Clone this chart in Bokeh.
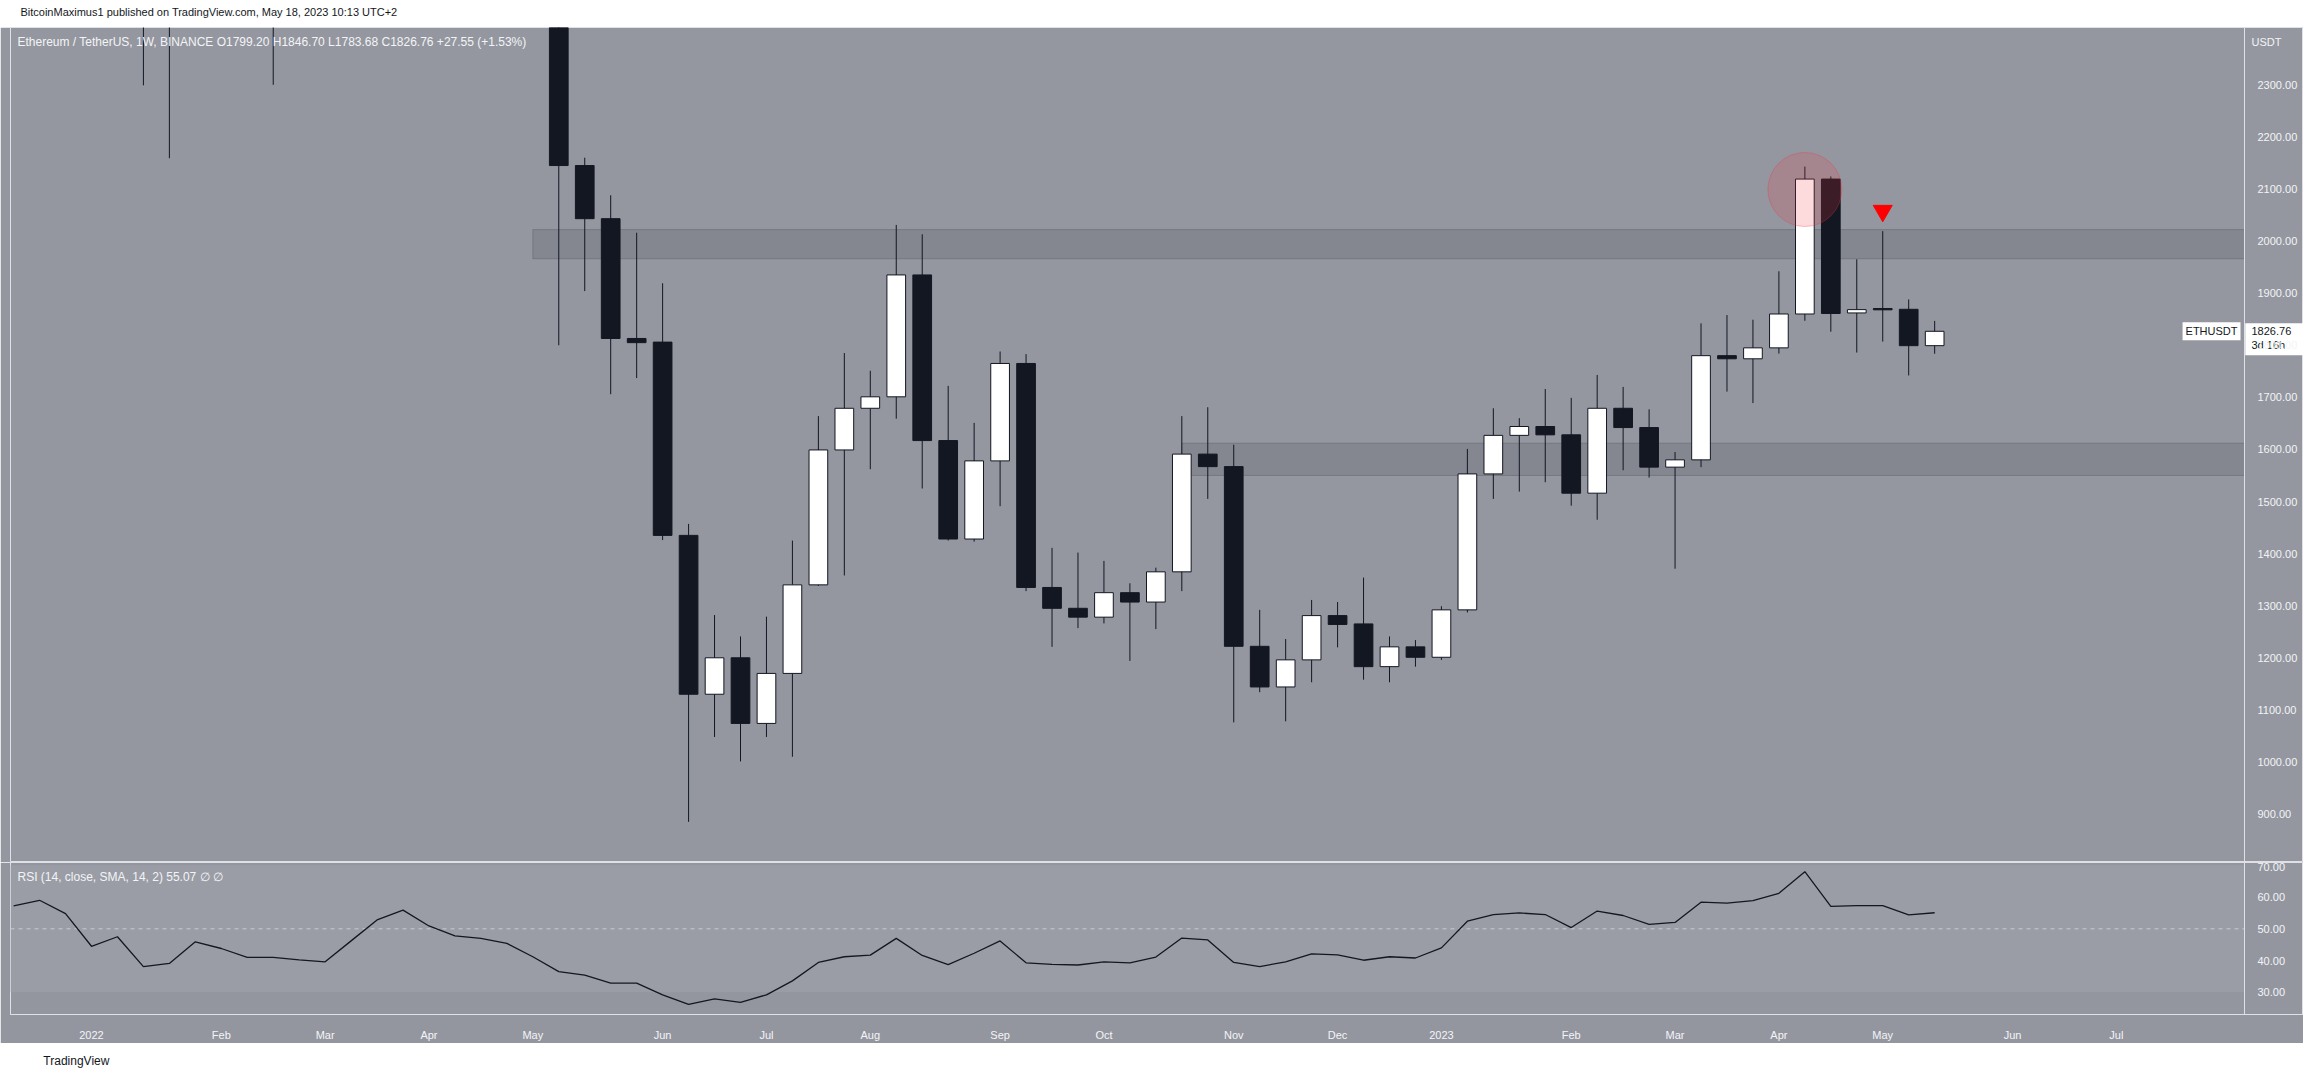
import numpy as np
import pandas as pd
from bokeh.plotting import figure
from bokeh.layouts import column
from bokeh.models import (Range1d, FixedTicker, NumeralTickFormatter, Label, Span,
                          ColumnDataSource, CDSView, BooleanFilter)
from bokeh.core.properties import value
from bokeh.embed import file_html
from bokeh.resources import INLINE

# ---------------- data (weekly ETH/USDT candles, Binance) ----------------
first_week = "2022-01-03"
opens = [3829, 3083, 3330, 2540, 2590, 3025, 2880, 2630, 2620, 2520, 2570, 2940, 3290, 3450,
         3200, 3060, 2920, 2830, 2520, 2145, 2043, 1813, 1806, 1435, 1130, 1200, 1074, 1170,
         1340, 1599, 1679, 1701, 1935, 1617, 1428, 1578, 1765, 1335, 1295, 1278, 1325, 1307,
         1365, 1591, 1567, 1222, 1144, 1196, 1281, 1265, 1183, 1221, 1201, 1292, 1553, 1627,
         1644, 1628, 1516, 1679, 1642, 1566, 1580, 1780, 1774, 1795, 1860, 2119, 1862, 1870.5,
         1869, 1799.20]
highs = [3900, 3413, 3380, 2730, 3040, 3280, 3200, 2800, 3050, 2830, 2950, 3300, 3580, 3550,
         3220, 3190, 3030, 3000, 2560, 2160, 2088, 2016, 1919, 1457, 1282, 1241, 1279, 1425,
         1664, 1785, 1751, 2031, 2013, 1722, 1651, 1788, 1783, 1411, 1402, 1386, 1343, 1373,
         1664, 1681, 1609, 1292, 1236, 1311, 1307, 1354, 1241, 1234, 1299, 1601, 1679, 1660,
         1716, 1699, 1743, 1720, 1677, 1595, 1842, 1858, 1849, 1942, 2143, 2124, 1965, 2019,
         1888, 1846.70]
lows = [3000, 2930, 2299, 2159, 2580, 2850, 2580, 2300, 2500, 2450, 2500, 2850, 3180, 3170,
        2900, 2880, 2770, 2480, 1800, 1904, 1706, 1737, 1426, 885, 1048, 1001, 1048, 1010,
        1338, 1358, 1562, 1659, 1525, 1425, 1423, 1491, 1328, 1221, 1257, 1266, 1194, 1255,
        1328, 1505, 1076, 1134, 1078, 1153, 1220, 1158, 1153, 1183, 1196, 1287, 1505, 1519,
        1537, 1492, 1465, 1560, 1546, 1371, 1566, 1711, 1689, 1784, 1847, 1826, 1786, 1807,
        1742, 1783.68]
closes = [3083, 3330, 2540, 2590, 3025, 2880, 2630, 2620, 2520, 2570, 2940, 3290, 3450, 3200,
          3060, 2920, 2830, 2520, 2145, 2043, 1813, 1805, 1435, 1130, 1200, 1074, 1170, 1340,
          1599, 1679, 1701, 1935, 1617, 1428, 1578, 1765, 1335, 1295, 1278, 1325, 1307, 1365,
          1591, 1567, 1222, 1144, 1196, 1281, 1264, 1183, 1221, 1201, 1292, 1553, 1627, 1644,
          1628, 1516, 1679, 1642, 1566, 1580, 1780, 1774, 1795, 1860, 2119, 1861, 1868.4, 1868,
          1799.21, 1826.76]

rsi_first_week = "2021-12-13"
rsi = [57.2, 59.0, 54.8, 44.5, 47.5, 38.1, 39.1, 45.9, 43.8, 41.0, 41.0, 40.2, 39.6, 46.2,
       52.8, 55.9, 50.9, 47.8, 47.0, 45.4, 41.2, 36.5, 35.4, 32.9, 32.9, 29.2, 26.2, 27.9,
       26.8, 29.2, 33.6, 39.4, 41.2, 41.7, 47.0, 41.6, 38.7, 42.3, 46.2, 39.3, 38.8, 38.6,
       39.6, 39.3, 41.1, 47.1, 46.5, 39.4, 38.1, 39.6, 42.1, 41.8, 40.1, 41.2, 40.8, 44.0,
       52.4, 54.5, 55.0, 54.5, 50.4, 55.6, 54.2, 51.4, 52.0, 58.4, 58.1, 58.9, 61.2, 68.0,
       57.1, 57.3, 57.3, 54.4, 55.07]

tick_dates = ["2022-01-03", "2022-02-07", "2022-03-07", "2022-04-04", "2022-05-02",
              "2022-06-06", "2022-07-04", "2022-08-01", "2022-09-05", "2022-10-03",
              "2022-11-07", "2022-12-05", "2023-01-02", "2023-02-06", "2023-03-06",
              "2023-04-03", "2023-05-01", "2023-06-05", "2023-07-03"]
tick_labels = ["2022", "Feb", "Mar", "Apr", "May", "Jun", "Jul", "Aug", "Sep", "Oct", "Nov",
               "Dec", "2023", "Feb", "Mar", "Apr", "May", "Jun", "Jul"]
price_ticks = [900, 1000, 1100, 1200, 1300, 1400, 1500, 1600, 1700, 1800, 1900, 2000, 2100,
               2200, 2300]
rsi_ticks = [30, 40, 50, 60, 70]

zone_start = ["2022-05-02", "2022-10-24"]
zone_low = [1966, 1550]
zone_high = [2022, 1612]

circle_week, circle_price = "2023-04-10", 2099
arrow_week, arrow_price = "2023-05-01", 2058

# ---------------- helpers / style ----------------
def wk(d):
    return (pd.Timestamp(d) - pd.Timestamp(first_week)).days / 7.0

FONT = "Liberation Sans"
BG = "#94979f"
RSI_BG = "#93969f"
BAND = "#9a9da5"
DARK = "#131722"
LIGHT = "#f3f4f7"
EDGE = "#dfe1e6"
W = 2303
PX_PER_WK = 25.96
X0_PX = 91.0          # page x of the first weekly bar
Y_LO, Y_HI = 807, 2410

def xk(px):           # page px -> week units (annotation placement only)
    return (px - X0_PX) / PX_PER_WK

xr = Range1d(xk(10), xk(2303))
K_SEP = xk(2244)      # separator between chart and price scale
P_PER_PX = (Y_HI - Y_LO) / 835.0

# ---------------- header ----------------
hdr = figure(width=W, height=27, x_range=Range1d(0, W), y_range=Range1d(0, 27),
             output_backend="svg", toolbar_location=None, min_border=0,
             x_axis_location=None, y_axis_location=None)
hdr.background_fill_color = "white"
hdr.border_fill_color = "white"
hdr.outline_line_color = None
hdr.grid.visible = False
hdr.text(x=[10], y=[16], text=["BitcoinMaximus1 published on TradingView.com, May 18, 2023 10:13 UTC+2"],
         text_font=value(FONT), text_font_size="11px", text_color=DARK, text_baseline="middle")

# ---------------- main price panel ----------------
p = figure(width=W, height=835, x_range=xr, y_range=Range1d(Y_LO, Y_HI),
           output_backend="svg", toolbar_location=None, x_axis_location=None,
           y_axis_location="right", min_border_left=10, min_border_right=0,
           min_border_top=0, min_border_bottom=0)
p.background_fill_color = BG
p.border_fill_color = BG
p.outline_line_color = EDGE
p.grid.visible = False

# resistance / support zones
p.quad(left=[wk(d) for d in zone_start], right=[K_SEP] * len(zone_start),
       bottom=zone_low, top=zone_high,
       fill_color=DARK, fill_alpha=0.12, line_color=DARK, line_alpha=0.18, line_width=1)

k = np.arange(len(opens)) + wk(first_week)
o = np.array(opens, dtype=float)
c = np.array(closes, dtype=float)
h = np.array(highs, dtype=float)
lo = np.array(lows, dtype=float)
src = ColumnDataSource(dict(x=k, open=o, high=h, low=lo, close=c,
                            top=np.maximum(o, c), bottom=np.minimum(o, c)))
up = c >= o
# only candles that reach into the visible price window are rendered
wick_view = CDSView(filter=BooleanFilter(list(lo < Y_HI)))
up_view = CDSView(filter=BooleanFilter(list(up & (np.minimum(o, c) < Y_HI))))
dn_view = CDSView(filter=BooleanFilter(list((~up) & (np.minimum(o, c) < Y_HI))))
p.segment(x0="x", y0="high", x1="x", y1="low", source=src, view=wick_view,
          line_color=DARK, line_width=1)
p.vbar(x="x", top="top", bottom="bottom", width=0.72, source=src, view=up_view,
       fill_color="#ffffff", line_color=DARK, line_width=1)
p.vbar(x="x", top="top", bottom="bottom", width=0.72, source=src, view=dn_view,
       fill_color=DARK, line_color=DARK, line_width=1)

# annotations: circle at the top and red arrow
p.scatter(x=[wk(circle_week)], y=[circle_price], marker="circle", size=74,
          fill_color="#f23645", fill_alpha=0.18, line_color="#f23645", line_alpha=0.3)
p.scatter(x=[wk(arrow_week)], y=[arrow_price], marker="inverted_triangle", size=19,
          fill_color="#ff0000", line_color="#ff0000")

# price scale separator
p.add_layout(Span(location=K_SEP, dimension="height", line_color=EDGE, line_width=1))

ax = p.yaxis[0]
ax.ticker = FixedTicker(ticks=price_ticks)
ax.formatter = NumeralTickFormatter(format="0.00")
ax.major_label_text_color = LIGHT
ax.major_label_text_font = FONT
ax.major_label_text_font_size = "11px"
ax.major_tick_line_color = None
ax.minor_tick_line_color = None
ax.axis_line_color = None
ax.major_label_standoff = -52

chg = closes[-1] - closes[-2]
pct = chg / closes[-2] * 100
legend_txt = (f"Ethereum / TetherUS, 1W, BINANCE  O{opens[-1]:.2f}  H{highs[-1]:.2f}  "
              f"L{lows[-1]:.2f}  C{closes[-1]:.2f}  {chg:+.2f} ({pct:+.2f}%)")
y_top_line = Y_HI - 14 * P_PER_PX
p.add_layout(Label(x=xk(17), y=y_top_line, text=legend_txt, text_font=FONT,
                   text_font_size="12px", text_color=LIGHT, text_baseline="middle"))
p.add_layout(Label(x=xk(2251), y=y_top_line, text="USDT", text_font=FONT,
                   text_font_size="11px", text_color=LIGHT, text_baseline="middle"))
p.add_layout(Label(x=xk(2240), y=closes[-1], text="ETHUSDT", text_font=FONT,
                   text_font_size="11px", text_color=DARK, text_baseline="middle",
                   text_align="right", background_fill_color="white", padding=3))
# last price box on the price scale
p.quad(left=[K_SEP + 0.03], right=[xk(2303)], top=[closes[-1] + 8 * P_PER_PX],
       bottom=[closes[-1] - 24 * P_PER_PX], fill_color="white", line_color=None)
p.text(x=[xk(2251)] * 2, y=[closes[-1], closes[-1] - 14 * P_PER_PX],
       text=[f"{closes[-1]:.2f}", "3d 16h"], text_font=value(FONT), text_font_size="11px",
       text_color=DARK, text_baseline="middle", text_align="left")

# ---------------- RSI panel ----------------
r = figure(width=W, height=181, x_range=xr, y_range=Range1d(23.0, 70.9),
           output_backend="svg", toolbar_location=None, x_axis_location="below",
           y_axis_location="right", min_border_left=10, min_border_right=0,
           min_border_top=0, min_border_bottom=28)
r.background_fill_color = RSI_BG
r.border_fill_color = RSI_BG
r.outline_line_color = EDGE
r.grid.visible = False
r.quad(left=[xk(10)], right=[K_SEP], bottom=[30], top=[70], fill_color=BAND, line_color=None)
r.segment(x0=[xk(10)], y0=[50], x1=[K_SEP], y1=[50], line_color="#c9cbd1", line_width=1,
          line_dash="4 4")
rk = np.arange(len(rsi)) + wk(rsi_first_week)
r.line(rk, rsi, line_color=DARK, line_width=1.3)
r.add_layout(Span(location=K_SEP, dimension="height", line_color=EDGE, line_width=1))

ry = r.yaxis[0]
ry.ticker = FixedTicker(ticks=rsi_ticks)
ry.formatter = NumeralTickFormatter(format="0.00")
ry.major_label_text_color = LIGHT
ry.major_label_text_font = FONT
ry.major_label_text_font_size = "11px"
ry.major_tick_line_color = None
ry.minor_tick_line_color = None
ry.axis_line_color = None
ry.major_label_standoff = -52

rx = r.xaxis[0]
tk = [wk(d) for d in tick_dates]
rx.ticker = FixedTicker(ticks=tk)
rx.major_label_overrides = {t: lab for t, lab in zip(tk, tick_labels)}
rx.major_label_text_color = LIGHT
rx.major_label_text_font = FONT
rx.major_label_text_font_size = "11px"
rx.major_tick_line_color = None
rx.minor_tick_line_color = None
rx.axis_line_color = EDGE
rx.major_label_standoff = 8

r.add_layout(Label(x=xk(17), y=70.9 - 14.5 / 3.2,
                   text=f"RSI (14, close, SMA, 14, 2)  {rsi[-1]:.2f}  \u2205  \u2205",
                   text_font=FONT, text_font_size="12px", text_color=LIGHT,
                   text_baseline="middle"))

# ---------------- footer ----------------
ftr = figure(width=W, height=36, x_range=Range1d(0, W), y_range=Range1d(0, 36),
             output_backend="svg", toolbar_location=None, min_border=0,
             x_axis_location=None, y_axis_location=None)
ftr.background_fill_color = "white"
ftr.border_fill_color = "white"
ftr.outline_line_color = None
ftr.grid.visible = False
ftr.text(x=[33], y=[19], text=["TradingView"], text_font=value(FONT), text_font_size="12px",
         text_color=DARK, text_baseline="middle")

layout = column(hdr, p, r, ftr, spacing=0)
open("out.html", "w").write(file_html(layout, INLINE))
